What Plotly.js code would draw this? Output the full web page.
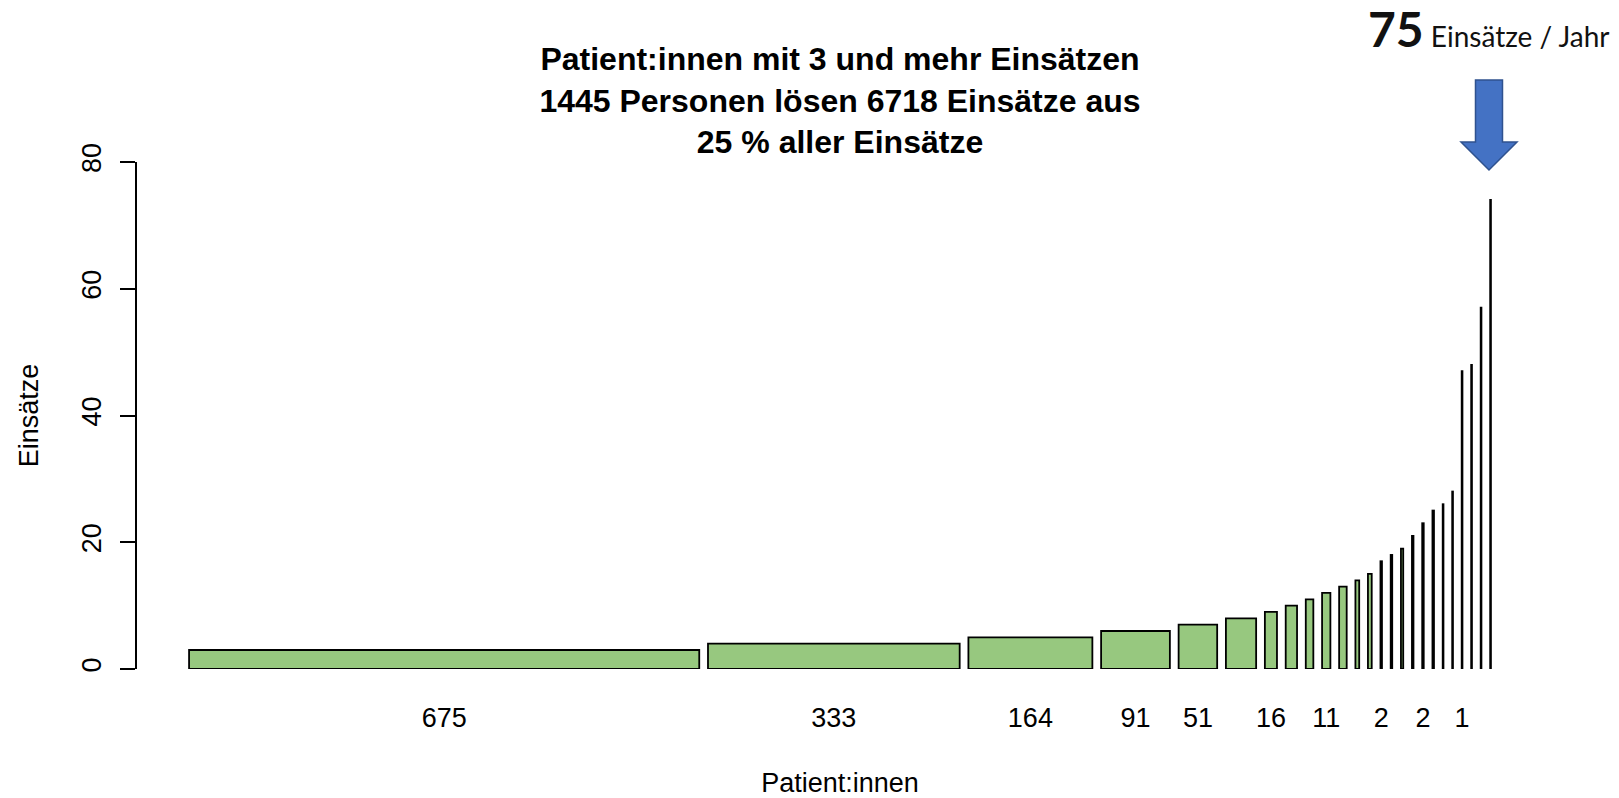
<!DOCTYPE html>
<html>
<head>
<meta charset="utf-8">
<script src="https://cdn.plot.ly/plotly-3.0.1.min.js"></script>
<style>
  html, body { margin: 0; padding: 0; background: #ffffff; }
  #chart { width: 1619px; height: 798px; }
</style>
</head>
<body>
<div id="chart"></div>
<script>
// Einsätze pro Patient:in (Balkenhöhe)
const einsaetze = [3, 4, 5, 6, 7, 8, 9, 10, 11, 12, 13, 14, 15, 17, 18, 19, 21, 23, 25, 26, 28, 47, 48, 57, 74];
// Anzahl Patient:innen (Balkenbreite)
const patienten = [675, 333, 164, 91, 51, 40, 16, 15, 10, 11, 10, 5, 5, 2, 2, 3, 2, 2, 2, 1, 1, 1, 1, 1, 1];
// Welche Balkenbeschriftungen sichtbar sind (wie im Original)
const labelSichtbar = [1, 1, 1, 1, 1, 0, 1, 0, 0, 1, 0, 0, 0, 1, 0, 0, 0, 1, 0, 0, 0, 1, 0, 0, 0];
const yTicks = [0, 20, 40, 60, 80];

const titelZeilen = [
  'Patient:innen mit 3 und mehr Einsätzen',
  '1445 Personen lösen 6718 Einsätze aus',
  '25 % aller Einsätze'
];
const xTitel = 'Patient:innen';
const yTitel = 'Einsätze';
const maxText = '75';
const maxEinheit = 'Einsätze / Jahr';

(function () {
  // R-artige barplot-Geometrie: Abstand = 0.2 * mittlere Breite
  const n = patienten.length;
  const meanW = patienten.reduce((a, b) => a + b, 0) / n;
  const gap = 0.2 * meanW;
  const centers = [];
  let pos = gap;
  for (let i = 0; i < n; i++) {
    centers.push(pos + patienten[i] / 2);
    pos += patienten[i] + gap;
  }
  const xmin = gap;
  const xmax = pos - gap;
  const pad = 0.04 * (xmax - xmin);

  const tickvals = [], ticktext = [];
  for (let i = 0; i < n; i++) {
    if (labelSichtbar[i]) { tickvals.push(centers[i]); ticktext.push(String(patienten[i])); }
  }

  const W = 1619, H = 798;
  const M = { l: 137, r: 76, t: 162, b: 129 };
  const plotW = W - M.l - M.r, plotH = H - M.t - M.b;
  const px2x = p => (p - M.l) / plotW;
  const px2y = p => (H - M.b - p) / plotH;

  // Blauer Pfeil (Pixelgeometrie -> Paper-Koordinaten)
  const acx = 1489, aTop = 80, aNeck = 142, aTip = 170, aSh = 13.5, aHh = 28;
  const pts = [[acx - aSh, aTop], [acx + aSh, aTop], [acx + aSh, aNeck], [acx + aHh, aNeck], [acx, aTip], [acx - aHh, aNeck], [acx - aSh, aNeck]];
  const arrowPath = 'M ' + pts.map(p => px2x(p[0]).toFixed(5) + ',' + px2y(p[1]).toFixed(5)).join(' L ') + ' Z';

  const font = 'Liberation Sans, Arial, Helvetica, sans-serif';

  const trace = {
    type: 'bar',
    x: centers,
    y: einsaetze,
    width: patienten,
    marker: { color: '#97C87F', line: { color: '#000000', width: 1.8 } },
    hoverinfo: 'x+y'
  };

  const layout = {
    width: W, height: H,
    margin: M,
    paper_bgcolor: '#ffffff',
    plot_bgcolor: '#ffffff',
    showlegend: false,
    font: { family: font, color: '#000000', size: 27 },
    title: {
      text: titelZeilen.join('<br>'),
      font: { family: font, size: 32, weight: 'bold', color: '#000000' },
      xref: 'paper', x: 0.5, xanchor: 'center',
      yref: 'container', y: 1 - 70 / H, yanchor: 'top'
    },
    xaxis: {
      range: [xmin - pad, xmax + pad],
      showline: false, zeroline: false, showgrid: false,
      ticks: '', tickvals: tickvals, ticktext: ticktext,
      tickfont: { family: font, size: 27, color: '#000000' },
      ticklabelstandoff: 30,
      title: { text: xTitel, font: { family: font, size: 27, color: '#000000' }, standoff: 44 },
      fixedrange: true
    },
    yaxis: {
      range: [0, 80],
      showline: true, linecolor: '#000000', linewidth: 2,
      zeroline: false, showgrid: false,
      ticks: 'outside', ticklen: 15, tickwidth: 2, tickcolor: '#000000',
      tickvals: yTicks, tickangle: -90,
      tickfont: { family: font, size: 27, color: '#000000' },
      ticklabelstandoff: 8,
      title: { text: yTitel, font: { family: font, size: 27, color: '#000000' }, standoff: 31 },
      fixedrange: true
    },
    shapes: [{
      type: 'path', xref: 'paper', yref: 'paper', path: arrowPath,
      fillcolor: '#4472C4', line: { color: '#2F528F', width: 1.5 }, layer: 'above'
    }],
    annotations: [{
      xref: 'paper', yref: 'paper',
      x: px2x(1489), y: px2y(28), xanchor: 'center', yanchor: 'middle',
      showarrow: false,
      text: '<b><span style="font-size:48px">' + maxText + '</span></b> ' + maxEinheit,
      font: { family: 'Lato, Noto Sans, sans-serif', size: 28, color: '#111111' }
    }]
  };

  Plotly.newPlot('chart', [trace], layout, { displayModeBar: false, staticPlot: true });
})();
</script>
</body>
</html>
